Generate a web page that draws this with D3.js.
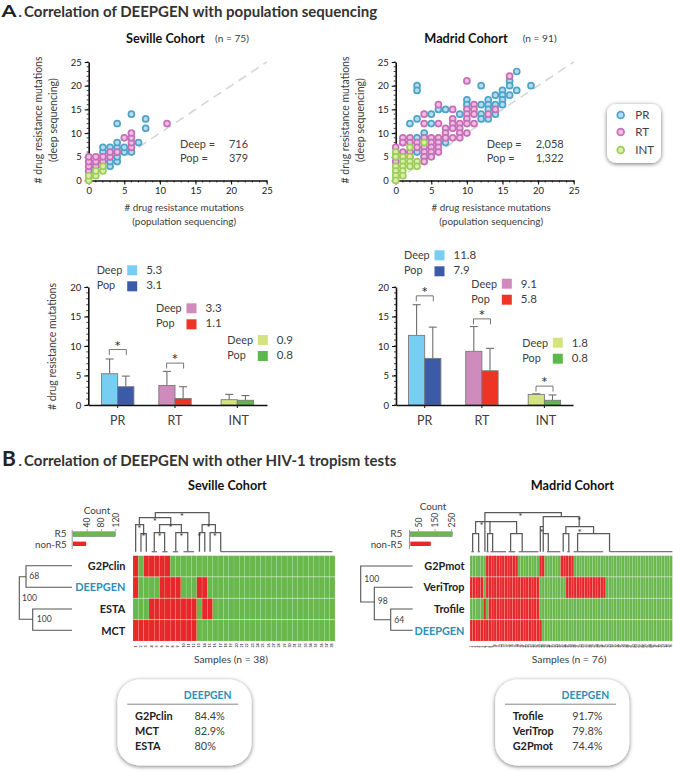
<!DOCTYPE html>
<html><head><meta charset="utf-8">
<script src="https://cdn.jsdelivr.net/npm/d3@7"></script>
<style>
html,body{margin:0;padding:0;background:#fff}
svg{display:block}
text{font-family:Lato,"Open Sans",sans-serif;fill:#404040}
</style></head><body>
<svg id="c" width="673" height="772"></svg>
<script>
// ---- data ----
const sevPR=[[4,12],[6,14],[8,13],[8,11],[7,8],[6,6],[6,7],[5,6],[5,7],[4,4],[4,5],[4,6],[4,7],[4,8],[3,3],[3,4],[3,5],[3,6],[3,7],[2,4],[2,5],[2,6],[2,7],[1,3],[1,2]];
const sevRT=[[11,12],[6,7],[6,8],[6,9],[6,10],[5,9],[4,6],[3,5],[3,6],[2,4],[2,5],[1,3],[1,4],[1,5],[0,2],[0,3],[0,4],[0,5]];
const sevINT=[[0,0],[0,1],[1,1],[1,2],[2,2],[2,3]];
const madPR=[[17,23],[16,21],[16,20],[16,18],[17,19],[19,20],[15,19],[15,18],[15,17],[15,16],[14,18],[14,16],[14,14],[13,17],[13,16],[13,15],[13,13],[12,20],[12,16],[12,14],[12,13],[10,17],[10,16],[9,14],[7,15],[6,15],[5,14],[5,12],[3,13],[2,12],[4,10],[3,20],[3,19],[3,9],[1,8],[7,8],[3,6],[4,5],[4,9]];
const madRT=[[16,22],[10,21],[14,15],[13,14],[11,16],[11,15],[11,14],[11,12],[10,15],[10,14],[10,13],[10,12],[10,10],[9,12],[9,11],[9,10],[9,9],[8,15],[8,13],[8,12],[8,11],[8,9],[7,11],[7,10],[7,9],[6,16],[6,12],[6,9],[6,8],[6,7],[6,6],[5,9],[5,8],[5,7],[5,6],[5,5],[4,14],[4,12],[4,9],[4,8],[4,7],[4,6],[4,5],[4,4],[3,8],[3,7],[2,9],[2,8],[2,6],[2,5],[1,9],[1,8],[1,6],[0,7],[0,5],[0,4]];
const madINT=[[4,8],[2,7],[0,6],[0,5],[0,3],[0,2],[0,1],[0,0],[1,5],[1,4],[1,3],[1,2],[1,1],[2,5],[2,4],[2,3],[3,4],[3,3]];
const scatterTicks=[0,5,10,15,20,25];
const barTicks=[0,5,10,15,20];
const barCats=["PR","RT","INT"];
const sevDeep=[5.3,3.3,0.9], sevPop=[3.1,1.1,0.8];
const sevDeepErr=[7.8,5.7,1.8], sevPopErr=[4.9,3.1,1.6];
const madDeep=[11.8,9.1,1.8], madPop=[7.9,5.8,0.8];
const madDeepErr=[17,13.3,1.9], madPopErr=[13.2,9.6,1.7];
const sevSig=[9.4,7.1,null], madSig=[18.5,14.6,3.2];
const sevSamples=38, madSamples=76;
const sevRows=["G2Pclin","DEEPGEN","ESTA","MCT"], madRows=["G2Pmot","VeriTrop","Trofile","DEEPGEN"];
const sevRed=[[[0,0],[2,6]],[[0,0],[5,8],[12,13]],[[3,11],[13,14]],[[0,11]]];
const madRed=[[[6,17],[26,27],[34,38]],[[0,4],[6,25],[36,50]],[[5,5],[7,25]],[[0,26]]];
const sevCount=[119,37], madCount=[254,124];
const sevCountTicks=[40,80,120], madCountTicks=[50,150,250];
const sevConc=[["G2Pclin","84.4%"],["MCT","82.9%"],["ESTA","80%"]];
const madConc=[["Trofile","91.7%"],["VeriTrop","79.8%"],["G2Pmot","74.4%"]];
// dendrogram merges: left column, right column, join height, left foot, right foot
const sevMerge=[[0,1.5,27,0,18],[1,2,18,0,0],[3.5,5.45,19,0,0],[7.55,9.8,19,0,0],[4.5,8.6,27,19,19],[0.7,6.6,34,27,27],[12,13,19,0,0],[14,16,19,0,0],[12.5,15,27,19,19],[3.7,13.8,39,34,27]];
const sevFlat=[[3,4],[5,6],[7,8],[9,11],[16,37]];
const sevStars=[[0.7,24],[1.5,16],[4.5,16],[8.6,16],[6.6,25],[3.6,31],[8.7,36.5],[12,16],[13.75,25],[14.9,16]];
const madMerge=[[0.5,2.75,18,0,0],[6.1,8,18,0,0],[14.75,19.1,18,0,0],[25.9,27,25,0,18],[27,28.9,18,0,0],[34.5,36.6,18,0,0],[39.9,51.9,18,0,0],[35.5,45.9,25,18,18],[27,40.5,35,25,25],[1.6,17,30,18,18],[7,7,30,18,18],[5.1,33.8,39,0,35]];
const madFlat=[[0,1],[2.4,3.2],[5.7,6.5],[7.2,13],[14,16.5],[17.8,25.2],[28.4,33.4],[36,37],[38.4,49.5],[52,75.5]];
const madStars=[[3.9,27],[26.5,20.5],[40.6,32],[40.7,20.5],[18.4,36.5]];

// ---- helpers ----
const svg=d3.select("#c");
const defs=svg.append("defs");
const f=defs.append("filter").attr("id","sh").attr("x","-20%").attr("y","-20%").attr("width","140%").attr("height","140%");
f.append("feDropShadow").attr("dx",0).attr("dy",1).attr("stdDeviation",2).attr("flood-color","#000").attr("flood-opacity",.55);
function T(g,x,y,s,o={}){
  const t=g.append("text").attr("x",x).attr("y",y).text(s).style("font-size",(o.size||11)+"px");
  if(o.bold)t.style("font-weight",700);
  if(o.anchor)t.attr("text-anchor",o.anchor);
  if(o.fill)t.style("fill",o.fill);
  if(o.rot!=null)t.attr("transform",`rotate(${o.rot} ${x} ${y})`);
  if(o.w){const L=t.node().getComputedTextLength();t.style("font-size",((o.size||11)*o.w/L)+"px");}
  return t;
}
const teal="#2b90b3";
const sColors={PR:["#4fa3c8","#b5dcee"],RT:["#c56fb6","#efbde3"],INT:["#9dcb5c","#dcefa8"]};
function dot(sel,kind){sel.attr("r",3).attr("fill",sColors[kind][1]).attr("stroke",sColors[kind][0]).attr("stroke-width",1.7);}

function minor(g,scale,vals,orient,len,sw){
  vals.forEach(v=>{
    const p=scale(v);
    const l=g.append("line").attr("stroke","#111").attr("stroke-width",sw);
    if(orient==="x")l.attr("x1",p).attr("x2",p).attr("y1",0).attr("y2",len);
    else l.attr("y1",p).attr("y2",p).attr("x1",0).attr("x2",-len);
  });
}
function styleAxis(a,size){
  a.selectAll("path").attr("stroke","#111").attr("stroke-width",1.6);
  a.selectAll(".tick line").attr("stroke","#111").attr("stroke-width",1.1);
  a.selectAll("text").style("font-size",size+"px").style("fill","#222").style("font-family","Lato");
}

// ---- scatter ----
function scatter(x0,pr,rt,int,deep,pop,txtX,valX,valW){
  const x=d3.scaleLinear().domain([0,25]).range([x0,x0+178]);
  const y=d3.scaleLinear().domain([0,25]).range([180.5,62]);
  const g=svg.append("g");
  g.append("line").attr("x1",x(0)).attr("y1",y(0)).attr("x2",x(25)).attr("y2",y(25))
    .attr("stroke","#d6d6da").attr("stroke-width",1.6).attr("stroke-dasharray","9 6");
  const ax=g.append("g").attr("transform",`translate(0,180.5)`).call(d3.axisBottom(x).tickValues(scatterTicks).tickSize(4).tickPadding(3).tickSizeOuter(0));
  const ay=g.append("g").attr("transform",`translate(${x0},0)`).call(d3.axisLeft(y).tickValues(scatterTicks).tickSize(4).tickPadding(3).tickSizeOuter(0));
  styleAxis(ax,9.5);styleAxis(ay,9.5);
  minor(ax,x,d3.range(26),"x",2,.8);minor(ay,y,d3.range(26),"y",2,.8);
  [[pr,"PR"],[rt,"RT"],[int,"INT"]].forEach(([d,k])=>{
    g.append("g").selectAll("circle").data(d).join("circle")
      .attr("cx",p=>x(p[0])).attr("cy",p=>y(p[1])).call(dot,k);
  });
  const cx=x0+95.5;
  T(g,x0-47,120,"# drug resistance mutations",{size:10,w:127,anchor:"middle",rot:-90});
  T(g,x0-32,120,"(deep sequencing)",{size:10,w:84,anchor:"middle",rot:-90});
  T(g,cx,211,"# drug resistance mutations",{size:10,w:119.5,anchor:"middle"});
  T(g,cx,224.5,"(population sequencing)",{size:10,w:104,anchor:"middle"});
  T(g,txtX,147.5,"Deep =",{size:11.5,w:35});T(g,valX,147.5,deep,{size:11.5,w:valW});
  T(g,txtX,162.3,"Pop =",{size:11.5,w:28});T(g,valX,162.3,pop,{size:11.5,w:valW});
}
scatter(88.7,sevPR,sevRT,sevINT,"716","379",180,229,19);
scatter(395.7,madPR,madRT,madINT,"2,058","1,322",486.7,535.7,28);

// ---- scatter legend ----
(function(){
  const g=svg.append("g");
  g.append("rect").attr("x",607).attr("y",104).attr("width",54).attr("height",59).attr("rx",9).attr("fill","#fff").attr("filter","url(#sh)");
  barCats.forEach((k,i)=>{
    const yy=[115,132,150][i];
    g.append("circle").attr("cx",620.7).attr("cy",yy).call(dot,k).attr("r",3.4);
    T(g,635.3,yy+4,k,{size:11.5});
  });
})();

// ---- bars ----
const barCol=[["#77cdf2","#3b5aa7"],["#d08bbd","#ee3425"],["#d4e47d","#5cb848"]];
function bars(x0,x1,centers,deep,pop,dErr,pErr,sig,legend,yLabel){
  const x=d3.scaleOrdinal().domain(barCats).range(centers);
  const y=d3.scaleLinear().domain([0,20]).range([405,287]);
  const w=16.2;
  const g=svg.append("g");
  barCats.forEach((c,i)=>{
    [[deep,dErr,-w,0],[pop,pErr,0,1]].forEach(([v,e,off,j])=>{
      const xm=x(c)+off+w/2;
      g.append("line").attr("x1",xm).attr("x2",xm).attr("y1",y(v[i])).attr("y2",y(e[i])).attr("stroke","#6e6e6e").attr("stroke-width",1.1);
      g.append("line").attr("x1",xm-4).attr("x2",xm+4).attr("y1",y(e[i])).attr("y2",y(e[i])).attr("stroke","#6e6e6e").attr("stroke-width",1.1);
      g.append("rect").attr("x",x(c)+off).attr("width",w).attr("y",y(v[i])).attr("height",y(0)-y(v[i]))
        .attr("fill",barCol[i][j]).attr("stroke","#7a7a7a").attr("stroke-width",.9);
    });
    if(sig[i]!=null){
      const t=y(sig[i]),xa=x(c)-8.4,xb=x(c)+8.6;
      g.append("path").attr("d",`M${xa},${t+5.5}V${t}H${xb}V${t+5.5}`).attr("fill","none").attr("stroke","#666").attr("stroke-width",.9);
      T(g,x(c),t+2,"*",{size:16,anchor:"middle",fill:"#333"});
    }
    const lg=legend[i];
    T(g,lg[0],lg[1],"Deep",{size:11.5,w:25.7});T(g,lg[0],lg[1]+14.8,"Pop",{size:11.5,w:18.5});
    g.append("rect").attr("x",lg[0]+30.5).attr("y",lg[1]-9).attr("width",10).attr("height",10).attr("fill",barCol[i][0]);
    g.append("rect").attr("x",lg[0]+30.5).attr("y",lg[1]+7).attr("width",10).attr("height",10).attr("fill",barCol[i][1]);
    T(g,lg[0]+49.5,lg[1],d3.format(".1f")(deep[i]),{size:11.5});
    T(g,lg[0]+49.5,lg[1]+14.8,d3.format(".1f")(pop[i]),{size:11.5});
    T(g,x(c)+(i==2?1.5:0),425,c,{size:12.5,anchor:"middle"});
  });
  const xs=d3.scaleLinear().domain([0,1]).range([x0,x1]);
  const ax=g.append("g").attr("transform","translate(0,405)").call(d3.axisBottom(xs).tickValues([]).tickSize(0).tickSizeOuter(0));
  styleAxis(ax,10);
  g.append("g").selectAll("line").data(barCats).join("line").attr("x1",c=>x(c)).attr("x2",c=>x(c)).attr("y1",405).attr("y2",408).attr("stroke","#111").attr("stroke-width",1);
  const ay=g.append("g").attr("transform",`translate(${x0},0)`).call(d3.axisLeft(y).tickValues(barTicks).tickSize(4).tickPadding(3).tickSizeOuter(0));
  styleAxis(ay,9.5);
  minor(ay,y,d3.range(21),"y",2,.8);
  if(yLabel)T(g,x0-32,346.5,"# drug resistance mutations",{size:10,w:127,anchor:"middle",rot:-90});
}
bars(88.3,267,[117.7,175,237.3],sevDeep,sevPop,sevDeepErr,sevPopErr,sevSig,[[96.7,274.3],[156,312.3],[227.3,344]],true);
bars(396,573,[424.7,481.9,544.4],madDeep,madPop,madDeepErr,madPopErr,madSig,[[404,259.3],[471.3,287.7],[522.3,346.7]],false);

// ---- heatmap ----
function heat(x0,x1,n,rows,red,merge,flat,stars){
  const g=svg.append("g");
  const x=d3.scaleBand().domain(d3.range(n)).range([x0,x1]);
  const y=d3.scaleBand().domain(rows).range([555.5,641]);
  rows.forEach((r,i)=>{
    const isRed=c=>red[i].some(([a,b])=>c>=a&&c<=b);
    g.append("g").selectAll("rect").data(d3.range(n)).join("rect")
      .attr("x",c=>x(c)).attr("y",y(r)).attr("width",x.bandwidth()).attr("height",y.bandwidth())
      .attr("fill",c=>isRed(c)?"#e6282a":"#68b84c")
      .attr("stroke","#fff").attr("stroke-opacity",.22).attr("stroke-width",.5);
    g.append("line").attr("x1",x0).attr("x2",x1).attr("y1",y(r)).attr("y2",y(r)).attr("stroke","#fff").attr("stroke-opacity",.5).attr("stroke-width",.7);
  });
  // sample labels
  g.append("g").selectAll("text").data(d3.range(n)).join("text")
    .attr("transform",c=>`translate(${x(c)+x.bandwidth()/2+1},647.5) rotate(-90)`)
    .text(c=>c+1).style("font-size",(n>40?2.8:3.6)+"px").style("fill","#333").style("font-weight",700);
  // dendrogram
  const cx=c=>x(0)+x.bandwidth()*(c+.5);
  const h=d3.scaleLinear().domain([0,40]).range([551.7,511.7]);
  merge.forEach(([a,b,t,fa,fb])=>{
    g.append("path").attr("d",`M${cx(a)},${h(fa)}V${h(t)}H${cx(b)}V${h(fb)}`).attr("fill","none").attr("stroke","#5a5a5a").attr("stroke-width",1.25);
  });
  flat.forEach(([a,b])=>{
    g.append("line").attr("x1",cx(a)).attr("x2",cx(b)).attr("y1",h(0)).attr("y2",h(0)).attr("stroke","#777").attr("stroke-width",1.3);
  });
  stars.forEach(([a,t])=>T(g,cx(a),h(t)+4.5,"*",{size:10,anchor:"middle",fill:"#333"}));
}
heat(133,335,sevSamples,sevRows,sevRed,sevMerge,sevFlat,sevStars);
heat(470,672.4,madSamples,madRows,madRed,madMerge,madFlat,madStars);

// ---- count bars ----
function count(x0,x1,max,vals,ticks,cx,cy,lblX){
  const g=svg.append("g");
  const x=d3.scaleLinear().domain([0,max]).range([x0,x1]);
  g.append("line").attr("x1",x0-.8).attr("x2",x0-.8).attr("y1",530).attr("y2",549).attr("stroke","#999").attr("stroke-width",1);
  g.append("rect").attr("x",x0).attr("y",531.8).attr("width",x(vals[0])-x0).attr("height",4.8).attr("fill","#68b84c").attr("stroke","#777").attr("stroke-width",.5);
  g.append("rect").attr("x",x0).attr("y",541.6).attr("width",x(vals[1])-x0).attr("height",4.4).attr("fill","#e6282a");
  ticks.forEach(t=>{
    g.append("line").attr("x1",x(t)).attr("x2",x(t)).attr("y1",529).attr("y2",531.5).attr("stroke","#888").attr("stroke-width",.7);
    T(g,x(t)+3,527.5,t,{size:8.5,rot:-90});
  });
  T(g,cx,cy,"Count",{size:10,w:26.7,anchor:"middle"});
  T(g,lblX,537,"R5",{size:10,anchor:"end"});
  T(g,lblX,547.8,"non-R5",{size:10,w:31.7,anchor:"end"});
}
count(73,115.7,120,sevCount,sevCountTicks,97,514,66.7);
count(410.3,451.6,250,madCount,madCountTicks,433,510,402.3);

// ---- trees ----
function tree(paths,end,rows,nums){
  const g=svg.append("g");
  paths.forEach(d=>g.append("path").attr("d",d).attr("fill","none").attr("stroke","#555").attr("stroke-width",1.1));
  const ys=[566,587.3,609,630.7];
  rows.forEach((r,i)=>T(g,end,ys[i]+4,r,{size:10.9,bold:true,anchor:"end",fill:r==="DEEPGEN"?teal:"#222"}));
  nums.forEach(n=>T(g,n[0],n[1],n[2],{size:8.6}));
}
tree(["M72,565.7H26V587.3H72","M26,576.7H19.3V619.3H32.7","M72,609H32.7V630.3H72"],125.3,sevRows,[[29.3,579.3,"68"],[22,600.7,"100"],[36.7,622.3,"100"]]);
tree(["M412.7,566H360.7V602H374.3","M412.7,587.3H374.3V619.7H390.7","M412.7,609H390.7V630.3H412.7"],464.5,madRows,[[364.3,581.7,"100"],[377.7,604,"98"],[394.3,622.7,"64"]]);

// ---- concordance boxes ----
function box(dx,rows){
  const g=svg.append("g").attr("transform",`translate(${dx},0)`);
  g.append("rect").attr("x",117.5).attr("y",679.5).attr("width",134).attr("height",86).attr("rx",22).attr("fill","#fff").attr("filter","url(#sh)");
  T(g,207.7,698.5,"DEEPGEN",{size:10.8,w:47.7,bold:true,anchor:"middle",fill:teal});
  g.append("line").attr("x1",127.3).attr("x2",238.3).attr("y1",704.2).attr("y2",704.2).attr("stroke","#666").attr("stroke-width",.8);
  rows.forEach((r,i)=>{
    const yy=720.2+i*14.9;
    T(g,135,yy,r[0],{size:10.9,bold:true,fill:"#222"});
    T(g,194.5,yy,r[1],{size:10.9});
  });
}
box(0,sevConc);box(377.7,madConc);

// ---- titles ----
T(svg,1.5,17,"A",{size:17,bold:true,fill:"#222"}).attr("textLength",15).attr("lengthAdjust","spacingAndGlyphs");
T(svg,18.5,16.5,".",{size:14,bold:true,fill:"#333"});
const bt=T(svg,24,466,"Correlation of DEEPGEN with other HIV-1 tropism tests",{size:14,w:372.7,bold:true,fill:"#333"});
T(svg,24,16.5,"Correlation of DEEPGEN with population sequencing",{size:parseFloat(bt.style("font-size")),bold:true,fill:"#333"});
T(svg,2,466,"B",{size:21,bold:true,fill:"#222"});
T(svg,18.5,466,".",{size:14,bold:true,fill:"#333"});
T(svg,126,43,"Seville Cohort",{size:12.5,w:78.7,bold:true,fill:"#111"});
T(svg,215,42,"(n = 75)",{size:10,w:34});
T(svg,424.3,43,"Madrid Cohort",{size:12.5,w:83.4,bold:true,fill:"#111"});
T(svg,522.7,42,"(n = 91)",{size:10,w:34});
T(svg,188,490,"Seville Cohort",{size:12.5,w:78.7,bold:true,fill:"#111"});
T(svg,530.7,490,"Madrid Cohort",{size:12.5,w:83.4,bold:true,fill:"#111"});
T(svg,194,663,"Samples (n = 38)",{size:10,w:74});
T(svg,531.7,663,"Samples (n = 76)",{size:10,w:75});
</script>
</body></html>
